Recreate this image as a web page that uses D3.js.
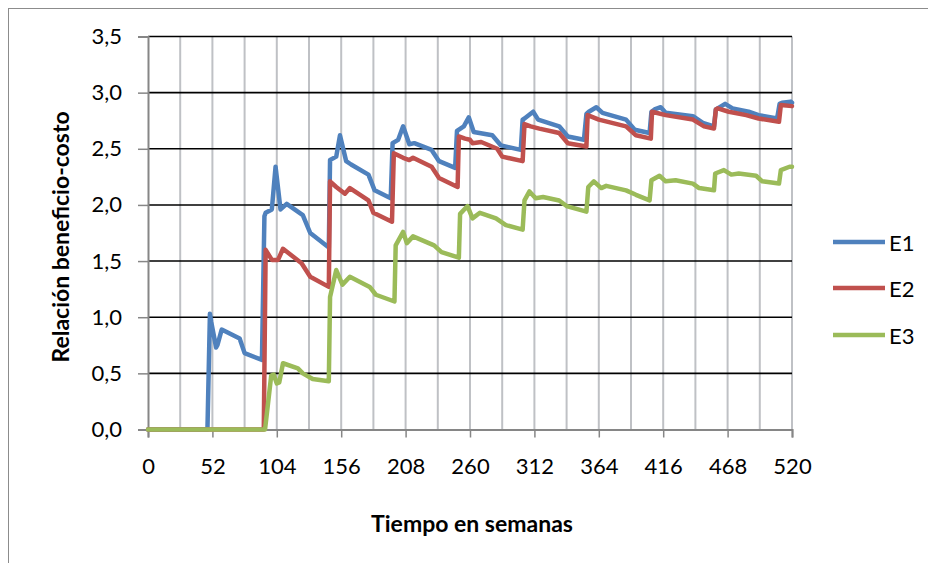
<!DOCTYPE html>
<html>
<head>
<meta charset="utf-8">
<script src="https://cdn.jsdelivr.net/npm/d3@7"></script>
<style>
  html, body { margin: 0; padding: 0; background: #fff; }
  svg { display: block; }
  text { font-family: Lato, "Open Sans", sans-serif; fill: #000; }
</style>
</head>
<body>
<svg id="chart" width="928" height="563"></svg>
<script>
// Benefit-cost ratio per scenario, [week, ratio] vertices
const e1 = [[0,0],[48,0],[50,1.03],[51,0.96],[55,0.73],[56,0.75],[59.5,0.89],[74,0.81],[78,0.68],[92,0.62],
  [94,1.90],[95,1.93],[100,1.96],[103,2.34],[107,1.96],[112,2.01],[125,1.91],[131,1.75],[146,1.62],
  [147,2.40],[152,2.43],[155,2.62],[160,2.39],[164,2.36],[178,2.27],[183,2.13],[196,2.06],
  [197.5,2.55],[202,2.58],[206,2.70],[211,2.54],[215,2.55],[229,2.49],[235,2.39],[248,2.33],
  [249.5,2.66],[255,2.70],[259,2.78],[263,2.65],[278,2.62],[285,2.53],[301,2.49],
  [302.5,2.76],[304,2.77],[311,2.83],[315,2.76],[332,2.70],[339,2.61],[352,2.58],
  [354,2.81],[356,2.83],[362,2.87],[367,2.82],[386,2.76],[393,2.67],[405,2.64],
  [406.5,2.83],[409,2.85],[414,2.87],[418,2.82],[440,2.79],[448,2.73],[457,2.70],
  [458.5,2.85],[460,2.86],[466,2.90],[472,2.86],[485,2.83],[493,2.80],[508,2.77],
  [510,2.90],[512,2.91],[519,2.92],[520,2.91]];

const e2 = [[0,0],[93.5,0],[95,1.60],[100,1.51],[105,1.51],[109,1.61],[124,1.48],[131,1.36],[146,1.27],
  [147,2.21],[152,2.16],[159,2.10],[163,2.15],[178,2.04],[182,1.93],[197,1.85],
  [198.5,2.46],[206,2.42],[211,2.40],[214,2.42],[229,2.34],[235,2.24],[250,2.16],
  [251,2.61],[256,2.59],[260,2.58],[262,2.55],[269,2.56],[282,2.50],[286,2.43],[302.5,2.39],
  [304,2.72],[309,2.70],[316,2.68],[332,2.64],[339,2.55],[354,2.52],
  [355,2.80],[364,2.76],[386,2.70],[394,2.62],[406,2.59],
  [407,2.83],[418,2.80],[440,2.76],[449,2.70],[457,2.68],
  [458.5,2.85],[460,2.86],[469,2.83],[483,2.80],[493,2.77],[509.5,2.74],
  [511,2.89],[520,2.88]];

const e3 = [[0,0],[94.5,0],[99.5,0.48],[101.5,0.49],[104,0.41],[106,0.42],[109,0.59],[121,0.545],[125,0.50],
  [133,0.45],[146,0.43],
  [147,1.18],[152,1.42],[157,1.29],[163,1.36],[179,1.27],[184,1.20],[199,1.14],
  [200,1.64],[206,1.76],[209,1.66],[214,1.72],[231,1.64],[237,1.58],[251,1.53],
  [252,1.92],[258,1.99],[262,1.88],[268,1.93],[281,1.88],[289,1.82],[302.5,1.78],
  [304,2.04],[308,2.12],[313,2.06],[319,2.07],[332,2.04],[338,1.99],[354,1.94],
  [355.5,2.16],[360,2.21],[366,2.15],[370,2.17],[386,2.13],[394,2.09],[405,2.04],
  [406.5,2.22],[413,2.26],[418,2.21],[426,2.22],[440,2.19],[445,2.15],[457,2.13],
  [458,2.28],[465,2.31],[471,2.27],[477,2.28],[491,2.26],[496,2.21],[509.5,2.19],
  [511,2.31],[518,2.34],[520,2.34]];

const seriesNames = ["E1", "E2", "E3"];
const seriesColors = ["#4f81bd", "#c0504d", "#9bbb59"];
const xTicks = [0, 52, 104, 156, 208, 260, 312, 364, 416, 468, 520];
const xGrid = d3.range(0, 521, 26);
const yTicks = [0, 0.5, 1, 1.5, 2, 2.5, 3, 3.5];
const xTitle = "Tiempo en semanas";
const yTitle = "Relación beneficio-costo";

const svg = d3.select("#chart");
const plotLeft = 148, plotRight = 792, plotTop = 36.5, plotBottom = 429.5;

const x = d3.scaleLinear().domain([0, 520]).range([plotLeft, plotRight]);
const y = d3.scaleLinear().domain([0, 3.5]).range([plotBottom, plotTop]);
const fmt = v => d3.format(".1f")(v).replace(".", ",");

// outer chart frame
svg.append("rect").attr("x", 8.5).attr("y", 8.5).attr("width", 1000).attr("height", 1000)
  .attr("fill", "#fff").attr("stroke", "#8c8c8c").attr("stroke-width", 1);

// vertical gridlines
svg.append("g").selectAll("line").data(xGrid.filter(d => d > 0)).join("line")
  .attr("x1", d => x(d)).attr("x2", d => x(d))
  .attr("y1", plotTop).attr("y2", plotBottom)
  .attr("stroke", "#bfc1c5").attr("stroke-width", 2);

// horizontal gridlines
svg.append("g").selectAll("line").data(yTicks.filter(d => d > 0)).join("line")
  .attr("x1", plotLeft).attr("x2", plotRight)
  .attr("y1", d => y(d)).attr("y2", d => y(d))
  .attr("stroke", "#000").attr("stroke-width", 1.6);

// y axis
const yAxis = svg.append("g").attr("transform", `translate(${plotLeft},0)`)
  .call(d3.axisLeft(y).tickValues(yTicks).tickFormat(fmt).tickSize(10).tickPadding(16));
yAxis.select(".domain").attr("stroke", "#868686").attr("stroke-width", 2);
yAxis.selectAll(".tick line").attr("stroke", "#868686").attr("stroke-width", 1.5);
yAxis.selectAll(".tick text").attr("font-size", 22).attr("font-family", "Lato").attr("fill", "#000");

// x axis
const xAxis = svg.append("g").attr("transform", `translate(0,${plotBottom})`)
  .call(d3.axisBottom(x).tickValues(xTicks).tickFormat(d3.format("d")).tickSize(8).tickPadding(21));
xAxis.select(".domain").attr("stroke", "#868686").attr("stroke-width", 2);
xAxis.selectAll(".tick line").attr("stroke", "#868686").attr("stroke-width", 1.5);
xAxis.selectAll(".tick text").attr("font-size", 22).attr("font-family", "Lato").attr("fill", "#000");

// series lines
const line = d3.line().x(d => x(d[0])).y(d => y(d[1]));
[e1, e2, e3].forEach((data, i) => {
  svg.append("path").datum(data)
    .attr("d", line)
    .attr("fill", "none")
    .attr("stroke", seriesColors[i])
    .attr("stroke-width", 4.5)
    .attr("stroke-linejoin", "round")
    .attr("stroke-linecap", "round");
});

// axis titles
svg.append("text").attr("x", 472).attr("y", 523).attr("text-anchor", "middle")
  .attr("dominant-baseline", "central").attr("font-size", 23).attr("font-weight", "bold")
  .text(xTitle);
svg.append("text").attr("transform", "translate(60,237) rotate(-90)").attr("text-anchor", "middle")
  .attr("dominant-baseline", "central").attr("font-size", 23).attr("font-weight", "bold")
  .text(yTitle);

// legend
const legendY = [242, 288, 335];
seriesNames.forEach((name, i) => {
  svg.append("line").attr("x1", 833).attr("x2", 885)
    .attr("y1", legendY[i]).attr("y2", legendY[i])
    .attr("stroke", seriesColors[i]).attr("stroke-width", 4.5);
  svg.append("text").attr("x", 889).attr("y", legendY[i])
    .attr("dominant-baseline", "central").attr("font-size", 22)
    .text(name);
});
</script>
</body>
</html>
